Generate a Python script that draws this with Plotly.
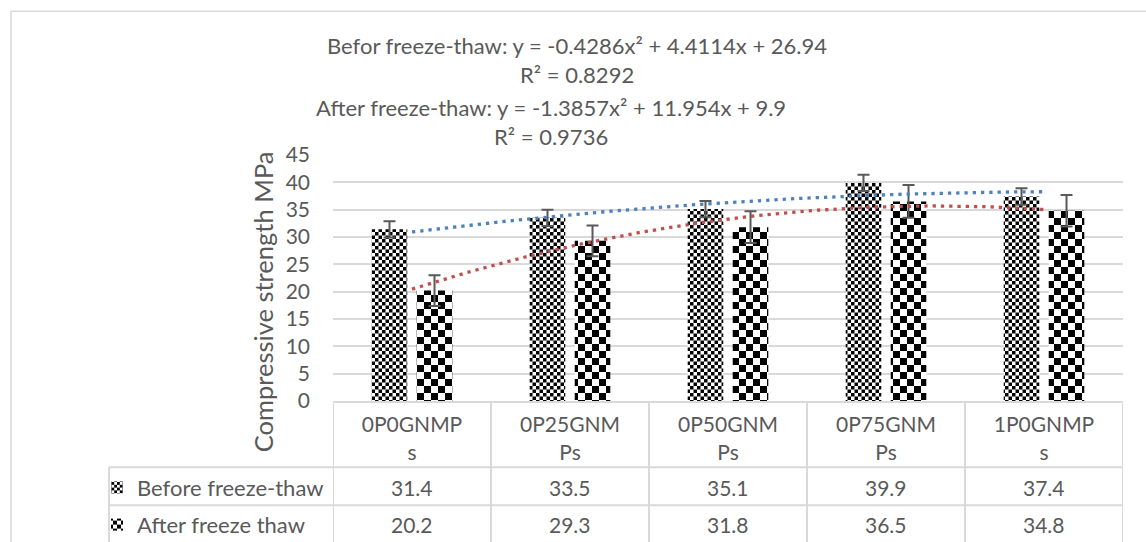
import numpy as np
import plotly.graph_objects as go

# ---------------- data ----------------
categories = ["0P0GNMPs", "0P25GNMPs", "0P50GNMPs", "0P75GNMPs", "1P0GNMPs"]
before_name = "Before freeze-thaw"
after_name = "After freeze thaw"
before_vals = [31.4, 33.5, 35.1, 39.9, 37.4]
after_vals = [20.2, 29.3, 31.8, 36.5, 34.8]
before_err = [1.5, 1.5, 1.5, 1.5, 1.5]
after_err = [2.8, 2.8, 2.9, 3.0, 2.9]
eq_before = ["Befor freeze-thaw: y = -0.4286x² + 4.4114x + 26.94", "R² = 0.8292"]
eq_after = ["After freeze-thaw: y = -1.3857x² + 11.954x + 9.9", "R² = 0.9736"]
y_ticks = [0, 5, 10, 15, 20, 25, 30, 35, 40, 45]
y_title = "Compressive strength MPa"

FONT = "Lato"
TXT = "#595959"
GRID = "#D9D9D9"

W, H = 1146, 542
L, R_, T, B = 333, 23, 154.7, 141.3
PW = W - L - R_
PH = H - T - B


def px_x(p):
    return (p - L) / PW


def px_y(p):
    return (H - B - p) / PH


xpos = list(range(1, len(categories) + 1))
ticktext = [c[:7] + "<br>" + c[7:] for c in categories]

fig = go.Figure()
fig.add_trace(go.Bar(
    x=xpos, y=before_vals, name=before_name, legend="legend",
    marker=dict(color="white", line=dict(width=0),
                pattern=dict(shape="+", fgcolor="black", bgcolor="white", size=7, solidity=0.5)),
    error_y=dict(type="data", array=before_err, color="#595959", thickness=2, width=6),
))
fig.add_trace(go.Bar(
    x=xpos, y=after_vals, name=after_name, legend="legend2",
    marker=dict(color="white", line=dict(width=0),
                pattern=dict(shape="+", fgcolor="black", bgcolor="white", size=14, solidity=0.5)),
    error_y=dict(type="data", array=after_err, color="#595959", thickness=2, width=6),
))

# polynomial (order 2) trendlines fitted to the data, as in the chart
xt = np.linspace(1, len(categories), 121)
cb = np.polyfit(xpos, before_vals, 2)
ca = np.polyfit(xpos, after_vals, 2)
fig.add_trace(go.Scatter(x=xt, y=np.polyval(cb, xt), mode="lines", showlegend=False,
                         line=dict(color="#4F81BD", width=3.3, dash="3.3px,4.97px"), hoverinfo="skip"))
fig.add_trace(go.Scatter(x=xt, y=np.polyval(ca, xt), mode="lines", showlegend=False,
                         line=dict(color="#C0504D", width=3.3, dash="3.3px,4.97px"), hoverinfo="skip"))

ann = []
# equations
for i, t in enumerate(eq_before):
    ann.append(dict(text=t, x=px_x(577), y=px_y([45, 74][i]), xref="paper", yref="paper",
                    showarrow=False, xanchor="center", yanchor="middle",
                    font=dict(family=FONT, size=22, color=TXT)))
for i, t in enumerate(eq_after):
    ann.append(dict(text=t, x=px_x(551), y=px_y([107, 136][i]), xref="paper", yref="paper",
                    showarrow=False, xanchor="center", yanchor="middle",
                    font=dict(family=FONT, size=22, color=TXT)))
# y axis title
ann.append(dict(text=y_title, x=px_x(263), y=px_y(302), xref="paper", yref="paper",
                showarrow=False, textangle=-90, xanchor="center", yanchor="middle",
                font=dict(family=FONT, size=25.5, color=TXT)))
# data table values
for xv, v in zip(xpos, before_vals):
    ann.append(dict(text=f"{v:.1f}", x=xv, y=px_y(487.5), xref="x", yref="paper", showarrow=False,
                    xanchor="center", yanchor="middle", font=dict(family=FONT, size=21, color=TXT)))
for xv, v in zip(xpos, after_vals):
    ann.append(dict(text=f"{v:.1f}", x=xv, y=px_y(524.5), xref="x", yref="paper", showarrow=False,
                    xanchor="center", yanchor="middle", font=dict(family=FONT, size=21, color=TXT)))

shapes = []
line = dict(color=GRID, width=2)
# outer chart frame
shapes.append(dict(type="rect", xref="paper", yref="paper", x0=px_x(11), x1=1.2, y0=px_y(11), y1=px_y(600),
                   line=dict(color=GRID, width=1.5), layer="below"))
# table grid
for yy in [467, 505]:
    shapes.append(dict(type="line", xref="paper", yref="paper", x0=px_x(109), x1=1, y0=px_y(yy), y1=px_y(yy), line=line))
shapes.append(dict(type="line", xref="paper", yref="paper", x0=px_x(109), x1=px_x(109), y0=px_y(467), y1=px_y(560), line=line))
for k in range(len(categories) + 1):
    shapes.append(dict(type="line", xref="x", yref="paper", x0=k + 0.5, x1=k + 0.5, y0=0, y1=px_y(560), line=line))

fig.update_layout(
    width=W, height=H,
    margin=dict(l=L, r=R_, t=T, b=B, autoexpand=False),
    paper_bgcolor="white", plot_bgcolor="white",
    barmode="group", bargap=0.43, bargroupgap=0.21,
    font=dict(family=FONT, size=21, color=TXT),
    xaxis=dict(range=[0.5, len(categories) + 0.5], tickvals=xpos, ticktext=ticktext, showgrid=False,
               zeroline=False, showline=True, linecolor=GRID, linewidth=2, ticks="",
               tickfont=dict(family=FONT, size=21, color=TXT), ticklabelstandoff=4, fixedrange=True),
    yaxis=dict(range=[0, 45], tickvals=y_ticks, showgrid=True, gridcolor=GRID, gridwidth=2,
               zeroline=False, showline=False, ticks="", ticklabelstandoff=22,
               tickfont=dict(family=FONT, size=21, color=TXT), fixedrange=True),
    legend=dict(x=px_x(97), y=px_y(487.5), xanchor="left", yanchor="middle", bgcolor="rgba(0,0,0,0)",
                font=dict(family=FONT, size=22, color=TXT), borderwidth=0),
    legend2=dict(x=px_x(97), y=px_y(524.5), xanchor="left", yanchor="middle", bgcolor="rgba(0,0,0,0)",
                 font=dict(family=FONT, size=22, color=TXT), borderwidth=0),
    annotations=ann, shapes=shapes, showlegend=True,
)

post = """
var gd = document.getElementById('{plot_id}');
function checker(){
  var ns = 'http://www.w3.org/2000/svg';
  gd.querySelectorAll('pattern').forEach(function(p){
    if (p.getAttribute('data-checker')) return;
    var w = parseFloat(p.getAttribute('width'));
    var h = w / 2;
    while (p.firstChild) p.removeChild(p.firstChild);
    var mk = function(x, y, s, c){
      var r = document.createElementNS(ns, 'rect');
      r.setAttribute('x', x); r.setAttribute('y', y);
      r.setAttribute('width', s); r.setAttribute('height', s);
      r.setAttribute('fill', c); p.appendChild(r);
    };
    mk(0, 0, w, '#ffffff'); mk(0, 0, h, '#000000'); mk(h, h, h, '#000000');
    p.setAttribute('data-checker', '1');
  });
}
checker();
gd.on('plotly_afterplot', checker);
"""

fig.write_html("out.html", post_script=post, config={"displayModeBar": False})
